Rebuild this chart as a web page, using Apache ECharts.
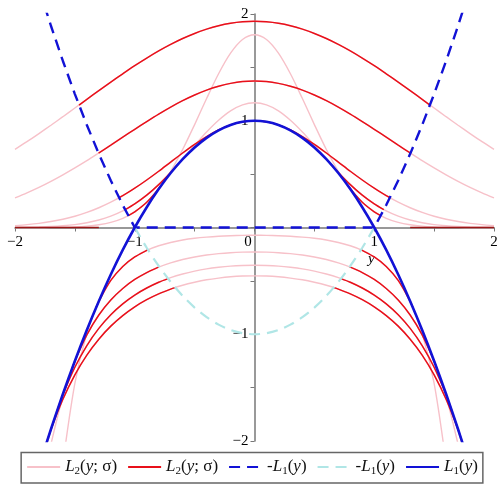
<!DOCTYPE html>
<html>
<head>
<meta charset="utf-8">
<script src="https://cdn.jsdelivr.net/npm/echarts@6/dist/echarts.min.js"></script>
<style>
  html, body { margin: 0; padding: 0; background: #fff; }
  #chart { width: 504px; height: 492px; }
</style>
</head>
<body>
<div id="chart"></div>
<script>
// sample points along y
const xs = [-2, -1.9, -1.8, -1.7, -1.6, -1.5, -1.4, -1.3, -1.2, -1.1, -1, -0.9, -0.8, -0.7, -0.6, -0.5, -0.4, -0.3, -0.2, -0.1,
  0, 0.1, 0.2, 0.3, 0.4, 0.5, 0.6, 0.7, 0.8, 0.9, 1, 1.1, 1.2, 1.3, 1.4, 1.5, 1.6, 1.7, 1.8, 1.9, 2]

// L2(y; sigma), upper family
const upperA = [0.732, 0.804, 0.880, 0.958, 1.038, 1.119, 1.201, 1.282, 1.362, 1.440, 1.516, 1.587, 1.654, 1.715, 1.770, 1.818, 1.858, 1.890, 1.913, 1.927,
  1.932, 1.927, 1.913, 1.890, 1.858, 1.818, 1.770, 1.715, 1.654, 1.587, 1.516, 1.440, 1.362, 1.282, 1.201, 1.119, 1.038, 0.958, 0.880, 0.804, 0.732]
const upperB = [0.277, 0.324, 0.375, 0.432, 0.493, 0.558, 0.626, 0.698, 0.771, 0.846, 0.920, 0.992, 1.062, 1.128, 1.188, 1.241, 1.287, 1.323, 1.350, 1.367,
  1.372, 1.367, 1.350, 1.323, 1.287, 1.241, 1.188, 1.128, 1.062, 0.992, 0.920, 0.846, 0.771, 0.698, 0.626, 0.558, 0.493, 0.432, 0.375, 0.324, 0.277]
const upperC = [0.018, 0.027, 0.039, 0.056, 0.077, 0.105, 0.141, 0.185, 0.237, 0.298, 0.368, 0.445, 0.527, 0.613, 0.698, 0.779, 0.852, 0.914, 0.961, 0.990,
  1.000, 0.990, 0.961, 0.914, 0.852, 0.779, 0.698, 0.613, 0.527, 0.445, 0.368, 0.298, 0.237, 0.185, 0.141, 0.105, 0.077, 0.056, 0.039, 0.027, 0.018]
const upperD = [0.001, 0.003, 0.005, 0.009, 0.016, 0.027, 0.045, 0.070, 0.106, 0.155, 0.221, 0.303, 0.402, 0.516, 0.641, 0.770, 0.895, 1.005, 1.093, 1.149,
  1.168, 1.149, 1.093, 1.005, 0.895, 0.770, 0.641, 0.516, 0.402, 0.303, 0.221, 0.155, 0.106, 0.070, 0.045, 0.027, 0.016, 0.009, 0.005, 0.003, 0.001]
const upperE = [0, 0, 0, 0.001, 0.003, 0.006, 0.013, 0.026, 0.048, 0.086, 0.146, 0.236, 0.362, 0.527, 0.731, 0.964, 1.208, 1.440, 1.633, 1.761,
  1.806, 1.761, 1.633, 1.440, 1.208, 0.964, 0.731, 0.527, 0.362, 0.236, 0.146, 0.086, 0.048, 0.026, 0.013, 0.006, 0.003, 0.001, 0, 0, 0]

// L2(y; sigma), lower family
const lowerA = [null, null, null, null, -2.208, -1.460, -0.992, -0.692, -0.496, -0.365, -0.276, -0.214, -0.171, -0.140, -0.117, -0.101, -0.090, -0.082, -0.077, -0.074,
  -0.073, -0.074, -0.077, -0.082, -0.090, -0.101, -0.117, -0.140, -0.171, -0.214, -0.276, -0.365, -0.496, -0.692, -0.992, -1.460, -2.208, null, null, null, null]
const lowerB = [null, null, null, -2.031, -1.583, -1.252, -1.006, -0.820, -0.679, -0.571, -0.487, -0.422, -0.371, -0.331, -0.300, -0.276, -0.258, -0.245, -0.236, -0.231,
  -0.229, -0.231, -0.236, -0.245, -0.258, -0.276, -0.300, -0.331, -0.371, -0.422, -0.487, -0.571, -0.679, -0.820, -1.006, -1.252, -1.583, -2.031, null, null, null]
const lowerC = [null, null, -2.328, -1.899, -1.567, -1.309, -1.106, -0.945, -0.817, -0.715, -0.633, -0.567, -0.513, -0.470, -0.436, -0.409, -0.388, -0.373, -0.362, -0.356,
  -0.354, -0.356, -0.362, -0.373, -0.388, -0.409, -0.436, -0.470, -0.513, -0.567, -0.633, -0.715, -0.817, -0.945, -1.106, -1.309, -1.567, -1.899, -2.328, null, null]
const lowerD = [null, null, -2.252, -1.894, -1.609, -1.380, -1.195, -1.046, -0.924, -0.825, -0.743, -0.676, -0.622, -0.577, -0.541, -0.513, -0.490, -0.474, -0.462, -0.455,
  -0.453, -0.455, -0.462, -0.474, -0.490, -0.513, -0.541, -0.577, -0.622, -0.676, -0.743, -0.825, -0.924, -1.046, -1.195, -1.380, -1.609, -1.894, -2.252, null, null]

// red part of each curve: [inner y, value] .. [outer y, value] (inner null = from centre)
const redUpperA = [null, [1.465, 1.147]]
const redUpperB = [null, [1.302, 0.697]]
const redUpperC = [null, [1.1305, 0.279]]
const redUpperD = [[0.632, 0.600], [1.080, 0.167]]
const redUpperE = [[0.776, 0.398], [1.0535, 0.111]]
const redLowerA = [[0.8895, -0.209], [1.323, -0.750]]
const redLowerB = [[0.795, -0.369], [1.5245, -1.324]]
const redLowerC = [[0.722, -0.479], [1.649, -1.720]]
const redLowerD = [[0.662, -0.563], [1.75, -2.063]]
const redOnAxis = [[1.3, 0], [2, 0]]

// L1(y) and -L1(y)
const l1X = [-1.8, -1.7, -1.6, -1.5, -1.4, -1.3, -1.2, -1.1, -1, -0.9, -0.8, -0.7, -0.6, -0.5, -0.4, -0.3, -0.2, -0.1,
  0, 0.1, 0.2, 0.3, 0.4, 0.5, 0.6, 0.7, 0.8, 0.9, 1, 1.1, 1.2, 1.3, 1.4, 1.5, 1.6, 1.7, 1.8]
const l1Y = [-2.24, -1.89, -1.56, -1.25, -0.96, -0.69, -0.44, -0.21, 0, 0.19, 0.36, 0.51, 0.64, 0.75, 0.84, 0.91, 0.96, 0.99,
  1, 0.99, 0.96, 0.91, 0.84, 0.75, 0.64, 0.51, 0.36, 0.19, 0, -0.21, -0.44, -0.69, -0.96, -1.25, -1.56, -1.89, -2.24]
const negL1Upper = [[-1.8, 2.24], [-1.7, 1.89], [-1.6, 1.56], [-1.5, 1.25], [-1.4, 0.96], [-1.3, 0.69], [-1.2, 0.44], [-1.1, 0.21], [-1, 0],
  [1, 0], [1.1, 0.21], [1.2, 0.44], [1.3, 0.69], [1.4, 0.96], [1.5, 1.25], [1.6, 1.56], [1.7, 1.89], [1.8, 2.24]]
const negL1Lower = [[-1, 0], [-0.9, -0.19], [-0.8, -0.36], [-0.7, -0.51], [-0.6, -0.64], [-0.5, -0.75], [-0.4, -0.84], [-0.3, -0.91], [-0.2, -0.96], [-0.1, -0.99],
  [0, -1], [0.1, -0.99], [0.2, -0.96], [0.3, -0.91], [0.4, -0.84], [0.5, -0.75], [0.6, -0.64], [0.7, -0.51], [0.8, -0.36], [0.9, -0.19], [1, 0]]

const PINK = '#f7c1c9'
const RED = '#e8101a'
const BLUE = '#1212d6'
const CYAN = '#b0e6e6'
const SERIF = 'Liberation Serif, DejaVu Serif, serif'

// plot box, axes cross at the origin in the middle of it
const W = 504, H = 492
const gridL = 15, gridR = 10, gridT = 14, gridB = 51

const chart = echarts.init(document.getElementById('chart'))

function pairs(vals) {
  return xs.map((x, i) => [x, vals[i]])
}

function line(name, data, color, width, dash) {
  return {
    name: name,
    type: 'line',
    data: data,
    symbol: 'none',
    smooth: 0.3,
    silent: true,
    lineStyle: { color: color, width: width, type: dash || 'solid' },
    itemStyle: { color: color }
  }
}

// red piece(s) of one curve, from its values and the edge points
function redPieces(vals, range) {
  const inner = range[0]
  const outer = range[1]
  const pts = pairs(vals)
  if (!inner) {
    const mid = pts.filter(p => Math.abs(p[0]) < outer[0])
    return [[[-outer[0], outer[1]]].concat(mid, [[outer[0], outer[1]]])]
  }
  const right = pts.filter(p => p[0] > inner[0] && p[0] < outer[0])
  const left = pts.filter(p => p[0] < -inner[0] && p[0] > -outer[0])
  return [
    [[-outer[0], outer[1]]].concat(left, [[-inner[0], inner[1]]]),
    [[inner[0], inner[1]]].concat(right, [[outer[0], outer[1]]])
  ]
}

const series = []
;[upperA, upperB, upperC, upperD, upperE, lowerA, lowerB, lowerC, lowerD].forEach(v => {
  series.push(line('L2p', pairs(v), PINK, 1.4))
})
const redSets = [[upperA, redUpperA], [upperB, redUpperB], [upperC, redUpperC], [upperD, redUpperD], [upperE, redUpperE],
  [lowerA, redLowerA], [lowerB, redLowerB], [lowerC, redLowerC], [lowerD, redLowerD]]
redSets.forEach(s => {
  redPieces(s[0], s[1]).forEach(d => series.push(line('L2r', d, RED, 1.5)))
})
const axisRedR = line('L2r', redOnAxis, '#9c1818', 1.5)
const axisRedL = line('L2r', redOnAxis.map(p => [-p[0], p[1]]), '#9c1818', 1.5)
axisRedR.smooth = false
axisRedL.smooth = false
series.push(axisRedR, axisRedL)
const dashUp = line('nL1a', negL1Upper, BLUE, 2.4, [11, 7])
dashUp.smooth = false
series.push(dashUp)
series.push(line('nL1b', negL1Lower, CYAN, 2.2, [11, 7]))
series.push(line('L1', l1X.map((x, i) => [x, l1Y[i]]), BLUE, 2.6))

const legendText = {
  L2p: '{i|L}{s|2}{n|(}{i|y}{n|; σ)}',
  L2r: '{i|L}{s|2}{n|(}{i|y}{n|; σ)}',
  nL1a: '{n|-}{i|L}{s|1}{n|(}{i|y}{n|)}',
  nL1b: '{n|-}{i|L}{s|1}{n|(}{i|y}{n|)}',
  L1: '{i|L}{s|1}{n|(}{i|y}{n|)}'
}

function tick(v) {
  if (v === 0 || !Number.isInteger(v)) return ''
  return v < 0 ? '\u2212' + Math.abs(v) : String(v)
}

chart.setOption({
  animation: false,
  backgroundColor: '#fff',
  grid: { left: gridL, right: gridR, top: gridT, bottom: gridB },
  xAxis: {
    type: 'value',
    min: -2,
    max: 2,
    interval: 0.5,
    position: 'bottom',
    offset: -(H - gridT - gridB) / 2,
    axisLine: { onZero: false, lineStyle: { color: '#777', width: 1.5 } },
    axisTick: { show: true, length: 4, lineStyle: { color: '#777' } },
    splitLine: { show: false },
    axisLabel: {
      margin: 7,
      color: '#000',
      fontFamily: SERIF,
      fontSize: 15,
      formatter: v => v === 0 ? '{z|0}' : tick(v),
      rich: { z: { fontFamily: SERIF, fontSize: 15, color: '#000', padding: [0, 13, 0, 0] } }
    }
  },
  yAxis: {
    type: 'value',
    min: -2,
    max: 2,
    interval: 0.5,
    position: 'left',
    offset: -(W - gridL - gridR) / 2,
    axisLine: { onZero: false, lineStyle: { color: '#777', width: 1.5 } },
    axisTick: { show: true, length: 4, lineStyle: { color: '#777' } },
    splitLine: { show: false },
    axisLabel: { margin: 6, color: '#000', fontFamily: SERIF, fontSize: 15, formatter: tick }
  },
  legend: {
    data: ['L2p', 'L2r', 'nL1a', 'nL1b', 'L1'],
    bottom: 9,
    left: 'center',
    borderColor: '#666',
    borderWidth: 1.5,
    borderRadius: 0,
    padding: [6, 5, 6, 5],
    itemGap: 10,
    itemWidth: 33,
    itemHeight: 14,
    selectedMode: false,
    itemStyle: { opacity: 0 },
    formatter: name => legendText[name],
    textStyle: {
      rich: {
        i: { fontFamily: SERIF, fontStyle: 'italic', fontSize: 17, color: '#111' },
        n: { fontFamily: SERIF, fontSize: 17, color: '#111' },
        s: { fontFamily: SERIF, fontSize: 11, color: '#111', padding: [9, 0, 0, 0] }
      }
    }
  },
  graphic: [{
    type: 'text',
    left: 368,
    top: 252,
    style: { text: 'y', font: 'italic 15px ' + SERIF, fill: '#000' }
  }],
  series: series
})
</script>
</body>
</html>
